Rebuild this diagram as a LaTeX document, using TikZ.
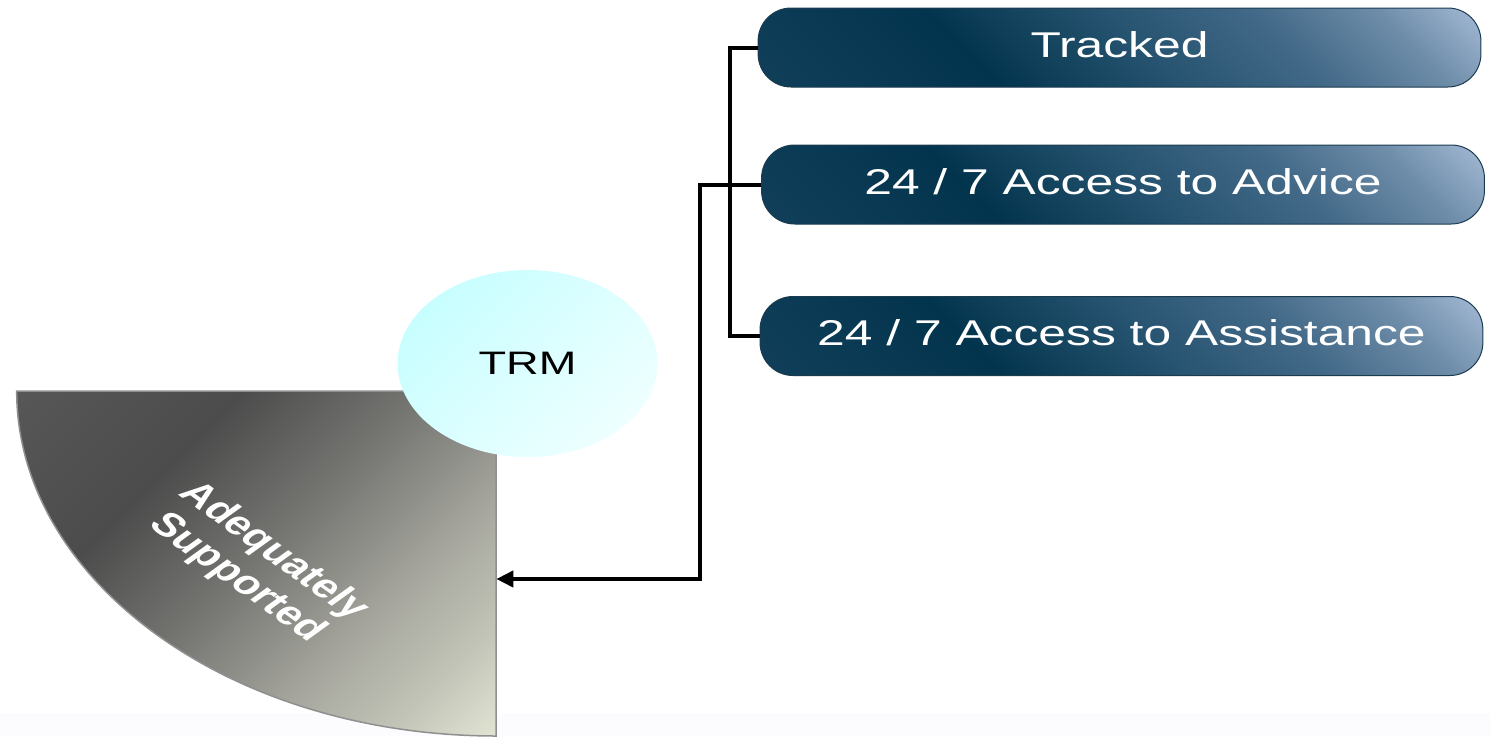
\documentclass[tikz,border=0pt]{standalone}
\usepackage{fontspec}
\setmainfont{Liberation Sans}
\usetikzlibrary{arrows.meta}
\definecolor{qedge}{HTML}{8F8F8F}
\definecolor{qa}{HTML}{E0E3D2}
\definecolor{qb}{HTML}{C2C4B7}
\definecolor{qc}{HTML}{A6A69E}
\definecolor{qd}{HTML}{767673}
\definecolor{qe}{HTML}{4C4C4C}
\definecolor{qf}{HTML}{575757}
\definecolor{ba}{HTML}{113F5A}
\definecolor{bb}{HTML}{03344D}
\definecolor{bc}{HTML}{22506C}
\definecolor{bd}{HTML}{426988}
\definecolor{be}{HTML}{6D8CA8}
\definecolor{bf}{HTML}{A8BDD8}
\definecolor{bxedge}{HTML}{1B3B50}
\definecolor{trmA}{HTML}{C8FEFF}
\definecolor{trmB}{HTML}{EEFFFF}
\definecolor{strip}{HTML}{FCFCFE}
\pgfdeclareverticalshading{quarshade}{100bp}{color(0bp)=(qa); color(15bp)=(qa); color(24bp)=(qb); color(35bp)=(qc); color(50bp)=(qd); color(66bp)=(qe); color(86bp)=(qf); color(100bp)=(qf)}
\pgfdeclareverticalshading{boxshade}{100bp}{color(0bp)=(ba); color(15bp)=(ba); color(36bp)=(bb); color(50bp)=(bc); color(65bp)=(bd); color(76bp)=(be); color(86bp)=(bf); color(100bp)=(bf)}
\tikzset{
  quarter/.style={draw=qedge, line width=1.5pt, shading=quarshade, shading angle=45},
  adeq/.style={text=white, align=center, font=\bfseries\fontsize{33}{37.5}\selectfont},
  trm/.style={circle, minimum size=187pt, inner sep=0pt, shading=axis, top color=trmA, bottom color=trmB, shading angle=45, font=\fontsize{32.5}{36}\selectfont},
  bluebox/.style={draw=bxedge, line width=1pt, rounded corners=33pt, minimum width=520pt, minimum height=79pt, inner sep=0pt, text height=26pt, text depth=7pt, shading=boxshade, shading angle=-45, text=white, font=\fontsize{35.8}{40}\selectfont},
  conn/.style={line width=4pt, black},
}
\begin{document}
\begin{tikzpicture}[x=1pt,y=-1pt]
\useasboundingbox (0,0) rectangle (1490,736);
\fill[strip] (0,713) rectangle (1490,736);
\begin{scope}[xscale=1.39, transform shape]
  \path[quarter] (357,736) arc[start angle=90, end angle=180, radius=345] -- (357,391) -- cycle;
  \coordinate (qtip) at (357,579);
  \node[adeq, rotate=-45] (adeq) at (183.5,565) {Adequately\\Supported};
  \node[trm] (trm) at (379.5,363.5) {TRM};
  \node[bluebox] (trk) at (805.4,47.5) {Tracked};
  \node[bluebox] (adv) at (807.9,184.5) {24 / 7 Access to Advice};
  \node[bluebox] (ast) at (806.8,336) {24 / 7 Access to Assistance};
  \draw[conn] (trk.west) -- ++(-19.5,0) |- (ast.west);
  \draw[conn, -{Triangle[length=17pt, width=16pt]}] (adv.west) -- ++(-43.6,0) |- (qtip);
\end{scope}
\end{tikzpicture}
\end{document}
